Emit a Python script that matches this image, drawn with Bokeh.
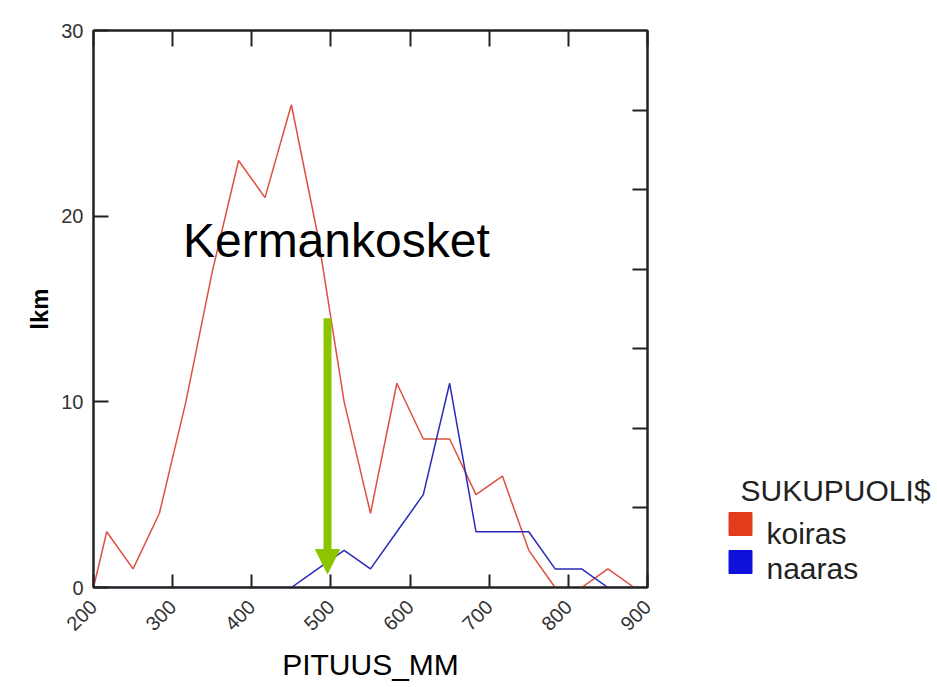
import math
from bokeh.plotting import figure
from bokeh.models import Range1d, FixedTicker, LinearAxis, Label, Arrow, NormalHead
from bokeh.layouts import row
from bokeh.core.properties import value
from bokeh.embed import file_html
from bokeh.resources import INLINE

# ---- data ----
length_mm = [200, 216.7, 250, 283.3, 316.7, 350, 383.3, 416.7, 450, 483.3, 516.7,
             550, 583.3, 616.7, 650, 683.3, 716.7, 750, 783.3, 816.7, 850, 883.3, 900]
koiras = [0, 3, 1, 4, 10, 17, 23, 21, 26, 19, 10, 4, 11, 8, 8, 5, 6, 2, 0, 0, 1, 0, 0]
naaras = [0, 0, 0, 0, 0, 0, 0, 0, 0, 1, 2, 1, 3, 5, 11, 3, 3, 3, 1, 1, 0, 0, 0]
series_names = ["koiras", "naaras"]
series_colors = ["#dc5040", "#2a2ab8"]
legend_colors = ["#e23c1a", "#1010dc"]
legend_title = "SUKUPUOLI$"
x_ticks = [200, 300, 400, 500, 600, 700, 800, 900]
y_ticks = [0, 10, 20, 30]
right_ticks = [30 * k / 7 for k in range(1, 7)]
note_text = "Kermankosket"
note_x, note_y = 313, 18.7
arrow_x, arrow_top, arrow_tip = 495.7, 14.5, 0.75

FONT = "Liberation Sans"
AXC = "#222222"

FRAME_L, FRAME_R, FRAME_T, FRAME_B = 93, 647, 30, 587
W1 = 708
H = 686

p = figure(width=W1, height=H, x_range=Range1d(200, 900), y_range=Range1d(0, 30),
           output_backend="svg", toolbar_location=None,
           min_border_left=FRAME_L, min_border_right=W1 - FRAME_R,
           min_border_top=FRAME_T, min_border_bottom=H - FRAME_B,
           x_axis_label="PITUUS_MM", y_axis_label="lkm")
p.grid.visible = False
p.outline_line_color = AXC
p.outline_line_width = 2
p.background_fill_color = "white"
p.border_fill_color = "white"

xa = p.xaxis[0]
xa.ticker = FixedTicker(ticks=x_ticks)
xa.major_label_orientation = math.pi / 4
xa.major_tick_in = 13
xa.major_tick_out = 0
xa.minor_tick_in = 0
xa.minor_tick_out = 0
xa.axis_line_color = AXC
xa.axis_line_width = 2
xa.major_tick_line_color = AXC
xa.major_tick_line_width = 2
xa.major_label_text_font = FONT
xa.major_label_text_font_size = "20px"
xa.major_label_text_color = "#333333"
xa.major_label_standoff = 16
xa.axis_label_text_font = FONT
xa.axis_label_text_font_size = "30px"
xa.axis_label_text_font_style = "normal"
xa.axis_label_text_color = "black"
xa.axis_label_standoff = 8

ya = p.yaxis[0]
ya.ticker = FixedTicker(ticks=y_ticks)
ya.major_tick_in = 15
ya.major_tick_out = 0
ya.minor_tick_in = 0
ya.minor_tick_out = 0
ya.axis_line_color = AXC
ya.axis_line_width = 2
ya.major_tick_line_color = AXC
ya.major_tick_line_width = 2
ya.major_label_text_font = FONT
ya.major_label_text_font_size = "20px"
ya.major_label_text_color = "#333333"
ya.major_label_standoff = 10
ya.axis_label_text_font = FONT
ya.axis_label_text_font_size = "24px"
ya.axis_label_text_font_style = "bold"
ya.axis_label_text_color = "black"
ya.axis_label_standoff = 5

top = LinearAxis(ticker=FixedTicker(ticks=x_ticks), major_label_text_font_size="0px",
                 major_label_text_color=None, major_tick_in=16, major_tick_out=0,
                 minor_tick_in=0, minor_tick_out=0, axis_line_color=AXC, axis_line_width=2,
                 major_tick_line_color=AXC, major_tick_line_width=2, major_label_standoff=0)
p.add_layout(top, "above")
right = LinearAxis(ticker=FixedTicker(ticks=right_ticks), major_label_text_font_size="0px",
                   major_label_text_color=None, major_tick_in=15, major_tick_out=0,
                   minor_tick_in=0, minor_tick_out=0, axis_line_color=AXC, axis_line_width=2,
                   major_tick_line_color=AXC, major_tick_line_width=2, major_label_standoff=0)
p.add_layout(right, "right")

p.line(length_mm, koiras, line_color=series_colors[0], line_width=1.5)
p.line(length_mm, naaras, line_color=series_colors[1], line_width=1.5)

p.add_layout(Label(x=note_x, y=note_y, text=note_text, text_font=FONT, text_font_size="48px",
                   text_color="black", text_baseline="alphabetic"))

green = "#8cc400"
p.add_layout(Arrow(x_start=arrow_x, y_start=arrow_top, x_end=arrow_x, y_end=arrow_tip,
                   line_color=green, line_width=8,
                   end=NormalHead(size=24, fill_color=green, line_color=green, line_width=1)))

# ---- legend panel (frame coordinates = page pixels) ----
W2 = 225
lg = figure(width=W2, height=H, x_range=Range1d(W1, W1 + W2), y_range=Range1d(FRAME_B, FRAME_T),
            output_backend="svg", toolbar_location=None,
            min_border_left=0, min_border_right=0,
            min_border_top=FRAME_T, min_border_bottom=H - FRAME_B,
            x_axis_location=None, y_axis_location=None)
lg.grid.visible = False
lg.outline_line_color = None
lg.background_fill_color = "white"
lg.border_fill_color = "white"

lg.text(x=[740], y=[490], text=[legend_title], text_font=value(FONT), text_font_size="30px",
        text_color="#222222", text_baseline="alphabetic")
lg.rect(x=[740, 740], y=[523.5, 561.5], width=23, height=23, fill_color=legend_colors,
        line_color=legend_colors)
lg.text(x=[766, 766], y=[533, 568], text=series_names, text_font=value(FONT),
        text_font_size="30px", text_color="#222222", text_baseline="alphabetic")

layout = row(p, lg)
open("out.html", "w").write(file_html(layout, INLINE))
